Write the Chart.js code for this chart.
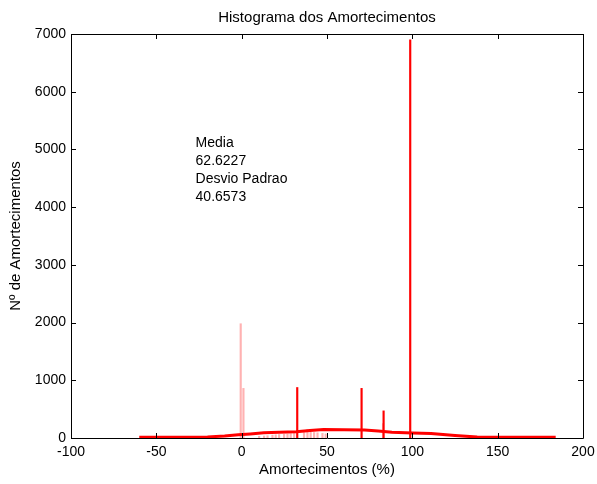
<!DOCTYPE html>
<html>
<head>
<meta charset="utf-8">
<script src="https://cdn.jsdelivr.net/npm/chart.js@4.4.1/dist/chart.umd.min.js"></script>
<style>
  body { margin: 0; background: #fff; }
  canvas { display: block; }
</style>
</head>
<body>
<canvas id="myChart" width="597" height="484"></canvas>
<script>
// Histogram bins (bin centre, count)
const strongBinX = [33.0, 70.7, 83.6, 99.2];
const strongBinY = [875, 860, 470, 6900];

const faintBinX = [-1.0, 0.6, 9.8, 12.7, 14.7, 17.6, 19.5, 21.5, 24.4, 26.4, 28.3, 30.3, 36.1, 38.1, 40.0, 42.0, 44.0, 46.9, 48.8, 82.4];
const faintBinY = [1980, 860, 30, 35, 40, 50, 55, 60, 65, 70, 75, 80, 95, 146, 100, 95, 90, 80, 70, 250];

// Fitted curve
const curveX = [-60, -40, -20, -10, -2, 5, 13, 22, 32, 40, 48, 60, 72, 80, 88, 100, 111, 125, 138, 150, 184];
const curveY = [15, 15, 18, 35, 55, 70, 90, 100, 110, 128, 146, 145, 140, 121, 100, 87, 76, 42, 17, 15, 15];

// Axis ticks
const xTicks = [-100, -50, 0, 50, 100, 150, 200];
const yTicks = [0, 1000, 2000, 3000, 4000, 5000, 6000, 7000];

// Text box
const noteLines = ['Media', '62.6227', 'Desvio Padrao', '40.6573'];
const noteX = -27;
const noteY = 5050;

const FONT = '"Liberation Sans", Arial, Helvetica, sans-serif';

// draws the box around the plot and the inward tick marks, plus the text
const boxPlugin = {
    id: 'box',
    afterDraw(chart) {
        const ctx = chart.ctx;
        const a = chart.chartArea;
        const xs = chart.scales.x;
        const ys = chart.scales.y;
        ctx.save();
        ctx.strokeStyle = '#000';
        ctx.lineWidth = 1;
        ctx.beginPath();
        ctx.rect(Math.round(a.left) + 0.5, Math.round(a.top) + 0.5, Math.round(a.right - a.left), Math.round(a.bottom - a.top));
        const tl = 5;
        xTicks.forEach(v => {
            const px = Math.round(xs.getPixelForValue(v)) + 0.5;
            ctx.moveTo(px, a.bottom);
            ctx.lineTo(px, a.bottom - tl);
            ctx.moveTo(px, a.top);
            ctx.lineTo(px, a.top + tl);
        });
        yTicks.forEach(v => {
            const py = Math.round(ys.getPixelForValue(v)) + 0.5;
            ctx.moveTo(a.left, py);
            ctx.lineTo(a.left + tl, py);
            ctx.moveTo(a.right, py);
            ctx.lineTo(a.right - tl, py);
        });
        ctx.stroke();

        ctx.fillStyle = '#000';
        ctx.font = '14px ' + FONT;
        ctx.textAlign = 'left';
        ctx.textBaseline = 'alphabetic';
        const tx = xs.getPixelForValue(noteX);
        const ty = ys.getPixelForValue(noteY);
        noteLines.forEach((t, i) => ctx.fillText(t, tx, ty + i * 18));
        ctx.restore();
    }
};

const ctx = document.getElementById('myChart').getContext('2d');
const myChart = new Chart(ctx, {
    type: 'bar',
    data: {
        datasets: [
            {
                type: 'line',
                data: curveX.map((x, i) => ({ x: x, y: curveY[i] })),
                borderColor: '#ff0000',
                borderWidth: 3,
                pointRadius: 0,
                tension: 0,
                fill: false,
                order: 0
            },
            {
                data: strongBinX.map((x, i) => ({ x: x, y: strongBinY[i] })),
                backgroundColor: '#ff0000',
                barThickness: 1.5,
                order: 1
            },
            {
                data: faintBinX.map((x, i) => ({ x: x, y: faintBinY[i] })),
                backgroundColor: 'rgba(255, 0, 0, 0.3)',
                barThickness: 1.5,
                order: 2
            }
        ]
    },
    options: {
        responsive: false,
        animation: false,
        layout: { padding: { left: 0, right: 14, top: 0, bottom: 0 } },
        plugins: {
            legend: { display: false },
            tooltip: { enabled: false },
            title: {
                display: true,
                fullSize: false,
                text: 'Histograma dos Amortecimentos',
                color: '#000',
                font: { family: FONT, size: 15, weight: 'normal' },
                padding: { top: 9, bottom: 7 }
            }
        },
        scales: {
            x: {
                type: 'linear',
                min: -100,
                max: 200,
                offset: false,
                afterBuildTicks: s => { s.ticks = xTicks.map(v => ({ value: v })); },
                grid: { display: false, drawTicks: false },
                border: { display: false },
                ticks: { color: '#000', font: { family: FONT, size: 14 }, padding: 6, maxRotation: 0 },
                title: {
                    display: true,
                    text: 'Amortecimentos (%)',
                    color: '#000',
                    font: { family: FONT, size: 15 },
                    padding: { top: 2, bottom: 5 }
                },
                afterFit: s => { s.height = 46; s.paddingLeft = 0; s.paddingRight = 0; }
            },
            y: {
                min: 0,
                max: 7000,
                afterBuildTicks: s => { s.ticks = yTicks.map(v => ({ value: v })); },
                grid: { display: false, drawTicks: false },
                border: { display: false },
                ticks: {
                    color: '#000',
                    font: { family: FONT, size: 14 },
                    padding: 5,
                    callback: v => String(v)
                },
                title: {
                    display: true,
                    text: 'Nº de Amortecimentos',
                    color: '#000',
                    font: { family: FONT, size: 15 },
                    padding: { top: 7, bottom: 0 }
                },
                afterFit: s => { s.width = 71; }
            }
        }
    },
    plugins: [boxPlugin]
});
</script>
</body>
</html>
